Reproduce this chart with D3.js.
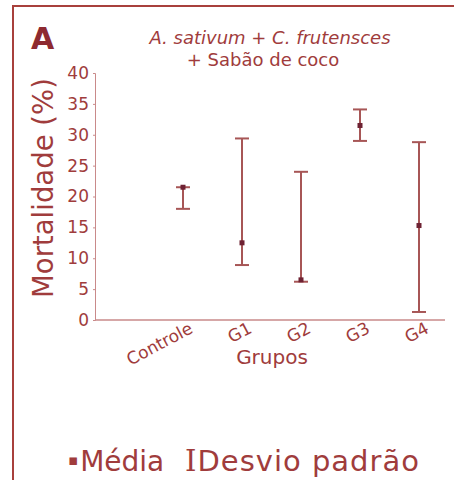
<!DOCTYPE html>
<html>
<head>
<meta charset="utf-8">
<script src="https://cdn.jsdelivr.net/npm/d3@7"></script>
<style>
  body { margin: 0; background: #fff; }
  text { font-family: "DejaVu Sans", Verdana, sans-serif; }
</style>
</head>
<body>
<script>
// dados
var grupos = ["Controle", "G1", "G2", "G3", "G4"];
var media = [21.5, 12.5, 6.5, 31.5, 15.3];
var dpMin = [18, 8.9, 6.2, 29, 1.3];
var dpMax = [21.5, 29.4, 24, 34.1, 28.8];
var yTicks = [0, 5, 10, 15, 20, 25, 30, 35, 40];

var W = 454, H = 480;
var corTexto = "#a03c3c";

var svg = d3.select("body").append("svg").attr("width", W).attr("height", H);

// moldura
svg.append("path")
    .attr("d", "M13,480 L13,6 L454,6")
    .attr("fill", "none")
    .attr("stroke", "#a8403c")
    .attr("stroke-width", 2);

var x = d3.scalePoint().domain(grupos).range([183, 419]);
var y = d3.scaleLinear().domain([0, 40]).range([320, 73]);

// eixo y
var yAxis = svg.append("g")
    .attr("transform", "translate(95,0)")
    .call(d3.axisLeft(y).tickValues(yTicks).tickSize(2).tickPadding(4));
yAxis.select(".domain").attr("stroke", "#c98a8a");
yAxis.selectAll(".tick line").attr("stroke", "#c98a8a");
yAxis.selectAll(".tick text")
    .attr("fill", corTexto)
    .style("font-size", "17px");

// eixo x
svg.append("line")
    .attr("x1", 95).attr("x2", 445)
    .attr("y1", y(0)).attr("y2", y(0))
    .attr("stroke", "#c98a8a").attr("stroke-width", 1.5);

svg.append("g").selectAll("text")
    .data(grupos)
    .enter()
    .append("text")
    .attr("text-anchor", "end")
    .attr("transform", function (d) {
        return "translate(" + (x(d) + 11) + "," + 332 + ") rotate(-28)";
    })
    .attr("fill", corTexto)
    .style("font-size", "17px")
    .text(function (d) { return d; });

// barras de desvio
var dados = grupos.map(function (g, i) {
    return { g: g, m: media[i], lo: dpMin[i], hi: dpMax[i] };
});

var eb = svg.append("g").selectAll("g")
    .data(dados)
    .enter()
    .append("g")
    .attr("stroke", "#a75656")
    .attr("stroke-width", 2);

eb.append("line")
    .attr("x1", function (d) { return x(d.g); })
    .attr("x2", function (d) { return x(d.g); })
    .attr("y1", function (d) { return y(d.lo); })
    .attr("y2", function (d) { return y(d.hi); });
eb.append("line")
    .attr("x1", function (d) { return x(d.g) - 7; })
    .attr("x2", function (d) { return x(d.g) + 7; })
    .attr("y1", function (d) { return y(d.lo); })
    .attr("y2", function (d) { return y(d.lo); });
eb.append("line")
    .attr("x1", function (d) { return x(d.g) - 7; })
    .attr("x2", function (d) { return x(d.g) + 7; })
    .attr("y1", function (d) { return y(d.hi); })
    .attr("y2", function (d) { return y(d.hi); });

svg.append("g").selectAll("rect")
    .data(dados)
    .enter()
    .append("rect")
    .attr("x", function (d) { return x(d.g) - 2.5; })
    .attr("y", function (d) { return y(d.m) - 2.5; })
    .attr("width", 5)
    .attr("height", 5)
    .attr("fill", "#6e2233");

// textos
svg.append("text")
    .attr("x", 31).attr("y", 49)
    .attr("fill", "#8e2a30")
    .style("font-size", "30px")
    .style("font-weight", "bold")
    .text("A");

svg.append("text")
    .attr("x", 270).attr("y", 44)
    .attr("text-anchor", "middle")
    .attr("fill", corTexto)
    .style("font-size", "18px")
    .style("font-style", "italic")
    .text("A. sativum + C. frutensces");

svg.append("text")
    .attr("x", 263).attr("y", 66)
    .attr("text-anchor", "middle")
    .attr("fill", corTexto)
    .style("font-size", "18px")
    .text("+ Sabão de coco");

svg.append("text")
    .attr("transform", "translate(53,188) rotate(-90)")
    .attr("text-anchor", "middle")
    .attr("fill", corTexto)
    .style("font-size", "27.5px")
    .text("Mortalidade (%)");

svg.append("text")
    .attr("x", 272).attr("y", 364)
    .attr("text-anchor", "middle")
    .attr("fill", corTexto)
    .style("font-size", "20px")
    .text("Grupos");

// legenda
var leg1 = svg.append("text")
    .attr("x", 68).attr("y", 471)
    .attr("fill", corTexto)
    .style("font-size", "28px");
leg1.append("tspan").attr("dy", -6).style("font-size", "15px").text("\u25AA");
leg1.append("tspan").attr("dy", 6).attr("dx", 2).text("Média");

var leg2 = svg.append("text")
    .attr("x", 185).attr("y", 471)
    .attr("fill", corTexto)
    .style("font-size", "29px")
    .style("letter-spacing", "1px");
leg2.append("tspan").style("font-family", "DejaVu Serif").text("I");
leg2.append("tspan").text("Desvio padrão");
</script>
</body>
</html>
